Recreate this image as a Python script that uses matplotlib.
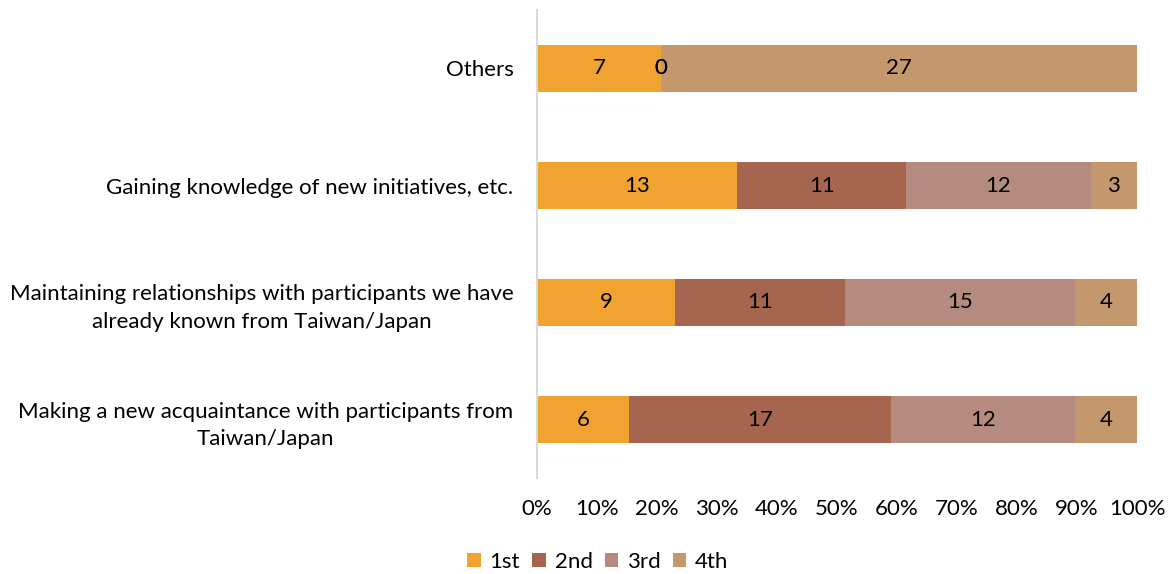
import matplotlib.pyplot as plt
import numpy as np

plt.rcParams['font.family'] = ['Lato', 'DejaVu Sans']

categories = [
    'Making a new acquaintance with participants from\nTaiwan/Japan',
    'Maintaining relationships with participants we have\nalready known from Taiwan/Japan',
    'Gaining knowledge of new initiatives, etc.',
    'Others',
]
series_names = ['1st', '2nd', '3rd', '4th']
first = [6, 9, 13, 7]
second = [17, 11, 11, 0]
third = [12, 15, 12, 0]
fourth = [4, 4, 3, 27]
colors = ['#F0A330', '#A5654E', '#B58B80', '#C4976C']

data = np.array([first, second, third, fourth], dtype=float)
totals = data.sum(axis=0)
shares = data / totals

fig = plt.figure(figsize=(11.68, 5.74), dpi=100)
ax = fig.add_axes([537 / 1168, 1 - 478 / 574, 600 / 1168, 468 / 574])

y = np.arange(len(categories))
left = np.zeros(len(categories))
for i, name in enumerate(series_names):
    ax.barh(y, shares[i], left=left, height=0.4, color=colors[i], label=name)
    for j in range(len(categories)):
        ax.text(left[j] + shares[i][j] / 2, y[j], f'{int(data[i][j])}',
                ha='center', va='center', fontsize=16, color='black')
    left += shares[i]

ax.set_xlim(0, 1)
ax.set_ylim(-0.5, 3.5)
ax.set_xticks(np.arange(0, 1.01, 0.1))
ax.set_xticklabels([f'{v}%' for v in range(0, 101, 10)], fontsize=16)
ax.set_yticks(y)
ax.set_yticklabels(categories, fontsize=16, multialignment='center', linespacing=1.45)
ax.tick_params(axis='both', length=0)
ax.tick_params(axis='x', pad=15)
ax.tick_params(axis='y', pad=17)
for s in ['top', 'right', 'bottom']:
    ax.spines[s].set_visible(False)
ax.spines['left'].set_color('#D9D9D9')
ax.spines['left'].set_linewidth(1.5)

fig.legend(loc='center', bbox_to_anchor=(598 / 1168, 1 - 562 / 574), ncol=4,
           frameon=False, fontsize=16, handlelength=0.6, handleheight=0.6,
           handletextpad=0.4, columnspacing=0.55)

fig.savefig('out.png', dpi=100)
